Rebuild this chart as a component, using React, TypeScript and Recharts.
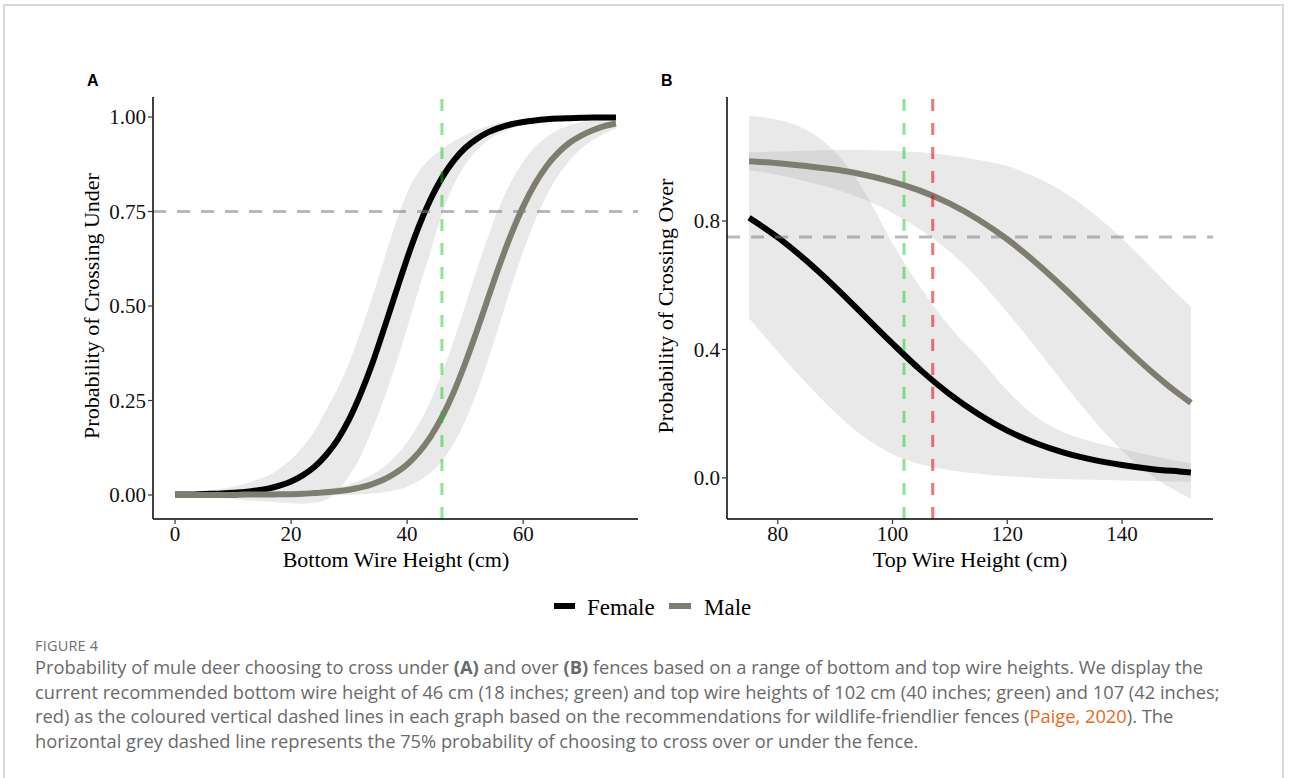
import React from 'react'
import { ComposedChart, Area, Line, XAxis, YAxis, ReferenceLine } from 'recharts'

// Panel A: bottom wire height (cm)
const heightA = [0, 2, 4, 6, 8, 10, 12, 14, 16, 18, 20, 22, 24, 26, 28, 30, 32, 34, 36, 38, 40, 42, 44, 46, 48, 50, 52, 54, 56, 58, 60, 62, 64, 66, 68, 70, 72, 74, 76]
const femaleA = [0.001, 0.001, 0.002, 0.003, 0.004, 0.006, 0.008, 0.012, 0.017, 0.025, 0.036, 0.052, 0.074, 0.105, 0.146, 0.200, 0.268, 0.348, 0.439, 0.533, 0.626, 0.710, 0.781, 0.839, 0.884, 0.918, 0.942, 0.960, 0.972, 0.981, 0.987, 0.991, 0.994, 0.996, 0.997, 0.998, 0.999, 0.999, 0.999]
const femaleALow = [-0.003, -0.004, -0.005, -0.006, -0.008, -0.010, -0.013, -0.016, -0.017, -0.020, -0.022, -0.023, -0.020, -0.013, 0.011, 0.050, 0.103, 0.173, 0.254, 0.343, 0.441, 0.545, 0.641, 0.744, 0.819, 0.873, 0.912, 0.939, 0.957, 0.970, 0.979, 0.985, 0.989, 0.992, 0.994, 0.995, 0.997, 0.997, 0.997]
const femaleAHigh = [0.005, 0.006, 0.009, 0.012, 0.016, 0.022, 0.029, 0.040, 0.051, 0.070, 0.094, 0.127, 0.168, 0.223, 0.281, 0.350, 0.433, 0.523, 0.622, 0.718, 0.800, 0.855, 0.890, 0.915, 0.935, 0.952, 0.966, 0.977, 0.985, 0.991, 0.995, 0.997, 0.999, 1.000, 1.000, 1.001, 1.001, 1.001, 1.001]
const maleA = [0.000, 0.000, 0.000, 0.000, 0.000, 0.000, 0.001, 0.001, 0.001, 0.002, 0.002, 0.003, 0.005, 0.007, 0.010, 0.014, 0.020, 0.029, 0.041, 0.058, 0.081, 0.112, 0.153, 0.206, 0.271, 0.348, 0.433, 0.523, 0.611, 0.692, 0.763, 0.822, 0.869, 0.905, 0.932, 0.951, 0.965, 0.976, 0.983]
const maleALow = [0, 0, 0, 0, 0, 0, 0, 0, 0, 0, -0.001, -0.001, -0.001, -0.001, 0.000, 0.000, 0.002, 0.004, 0.007, 0.013, 0.022, 0.037, 0.058, 0.090, 0.135, 0.195, 0.271, 0.360, 0.456, 0.553, 0.644, 0.724, 0.791, 0.844, 0.885, 0.916, 0.939, 0.956, 0.969]
const maleAHigh = [0, 0, 0, 0, 0.001, 0.001, 0.001, 0.002, 0.003, 0.004, 0.005, 0.007, 0.010, 0.015, 0.020, 0.028, 0.039, 0.054, 0.075, 0.103, 0.139, 0.187, 0.248, 0.322, 0.407, 0.500, 0.595, 0.685, 0.765, 0.831, 0.882, 0.920, 0.947, 0.966, 0.978, 0.986, 0.992, 0.995, 0.997]

// Panel B: top wire height (cm)
const heightB = [75, 80, 85, 90, 95, 100, 105, 110, 115, 120, 125, 130, 135, 140, 145, 150, 152]
const femaleB = [0.810, 0.749, 0.676, 0.594, 0.506, 0.418, 0.334, 0.260, 0.198, 0.147, 0.108, 0.078, 0.056, 0.040, 0.028, 0.020, 0.017]
const femaleBLow = [0.497, 0.393, 0.295, 0.204, 0.128, 0.074, 0.042, 0.024, 0.013, 0.005, 0.000, -0.004, -0.006, -0.008, -0.010, -0.011, -0.012]
const femaleBHigh = [1.128, 1.115, 1.083, 1.015, 0.895, 0.730, 0.590, 0.470, 0.375, 0.272, 0.190, 0.140, 0.112, 0.090, 0.070, 0.052, 0.046]
const maleB = [0.986, 0.980, 0.971, 0.960, 0.944, 0.922, 0.893, 0.854, 0.804, 0.743, 0.670, 0.589, 0.502, 0.415, 0.333, 0.260, 0.234]
const maleBLow = [0.959, 0.944, 0.923, 0.899, 0.867, 0.825, 0.771, 0.704, 0.618, 0.515, 0.405, 0.290, 0.181, 0.085, 0.009, -0.046, -0.065]
const maleBHigh = [1.013, 1.016, 1.019, 1.021, 1.021, 1.019, 1.014, 1.004, 0.990, 0.971, 0.936, 0.888, 0.823, 0.745, 0.657, 0.566, 0.533]

const xTicksA = [0, 20, 40, 60]
const yTicksA = [0, 0.25, 0.5, 0.75, 1]
const xTicksB = [80, 100, 120, 140]
const yTicksB = [0, 0.4, 0.8]

const threshold = 0.75
const guidesA = [{ x: 46, color: 'rgba(20,200,20,0.48)' }]
const guidesB = [
  { x: 102, color: 'rgba(20,200,20,0.48)' },
  { x: 107, color: 'rgba(235,0,0,0.55)' }
]

const SERIF = '"Liberation Serif", "Times New Roman", serif'
const SANS = '"Liberation Sans", Arial, sans-serif'
const CAPTION = '"Open Sans", "Noto Sans", sans-serif'
const MALE = '#7f7d6f'

function buildRows(h: number[], f: number[], fLo: number[], fHi: number[], m: number[], mLo: number[], mHi: number[]) {
  return h.map((x, i) => ({
    h: x,
    female: f[i],
    male: m[i],
    femaleBand: [fLo[i], fHi[i]],
    maleBand: [mLo[i], mHi[i]]
  }))
}

const rowsA = buildRows(heightA, femaleA, femaleALow, femaleAHigh, maleA, maleALow, maleAHigh)
const rowsB = buildRows(heightB, femaleB, femaleBLow, femaleBHigh, maleB, maleBLow, maleBHigh)

interface PanelProps {
  rows: any[]
  width: number
  yAxisWidth: number
  xDomain: [number, number]
  yDomain: [number, number]
  xTicks: number[]
  yTicks: number[]
  yDigits: number
  guides: { x: number; color: string }[]
}

function CurvePanel({ rows, width, yAxisWidth, xDomain, yDomain, xTicks, yTicks, yDigits, guides }: PanelProps) {
  const tickStyle = { fill: '#111', fontSize: 21, fontFamily: SERIF }
  return (
    <ComposedChart width={width} height={500} data={rows} margin={{ top: 7, right: 12, bottom: 0, left: 0 }}>
      <XAxis
        type="number"
        dataKey="h"
        domain={xDomain}
        ticks={xTicks}
        interval={0}
        allowDataOverflow
        height={71}
        tickSize={5}
        axisLine={{ stroke: '#000', strokeWidth: 1.5 }}
        tickLine={{ stroke: '#333', strokeWidth: 1.2 }}
        tick={tickStyle}
      />
      <YAxis
        type="number"
        domain={yDomain}
        ticks={yTicks}
        interval={0}
        allowDataOverflow
        width={yAxisWidth}
        tickSize={5}
        tickFormatter={(v: number) => v.toFixed(yDigits)}
        axisLine={{ stroke: '#000', strokeWidth: 1.5 }}
        tickLine={{ stroke: '#333', strokeWidth: 1.2 }}
        tick={tickStyle}
      />
      <Area dataKey="femaleBand" type="monotone" fill="#999999" fillOpacity={0.22} stroke="none" isAnimationActive={false} />
      <Area dataKey="maleBand" type="monotone" fill="#999999" fillOpacity={0.22} stroke="none" isAnimationActive={false} />
      <Line dataKey="female" type="monotone" stroke="#000" strokeWidth={6} dot={false} isAnimationActive={false} />
      <Line dataKey="male" type="monotone" stroke={MALE} strokeWidth={6} dot={false} isAnimationActive={false} />
      <ReferenceLine y={threshold} stroke="rgba(128,128,128,0.55)" strokeWidth={3} strokeDasharray="13 11" />
      {guides.map(g => (
        <ReferenceLine key={g.x} x={g.x} stroke={g.color} strokeWidth={3} strokeDasharray="12 12" />
      ))}
    </ComposedChart>
  )
}

const abs = (left: number, top: number): React.CSSProperties => ({ position: 'absolute', left, top })

function AxisTitle({ x, y, text, rotate }: { x: number; y: number; text: string; rotate?: boolean }) {
  return (
    <div
      style={{
        ...abs(x, y),
        transform: `translate(-50%, -50%)${rotate ? ' rotate(-90deg)' : ''}`,
        fontFamily: SERIF,
        fontSize: 22,
        lineHeight: 1,
        whiteSpace: 'nowrap',
        color: '#000'
      }}
    >
      {text}
    </div>
  )
}

export default function App() {
  const bold = { fontWeight: 700 }
  return (
    <div style={{ position: 'absolute', left: 0, top: 0, width: 1290, height: 778, background: '#fff', overflow: 'hidden' }}>
      <div style={{ position: 'absolute', left: 3, top: 4, width: 1281, height: 820, border: '2px solid #d9d9d9', boxSizing: 'border-box' }} />

      <div style={{ ...abs(87, 72), fontFamily: SANS, fontWeight: 700, fontSize: 16 }}>A</div>
      <div style={{ ...abs(661, 72), fontFamily: SANS, fontWeight: 700, fontSize: 16 }}>B</div>

      <div style={abs(60, 90)}>
        <CurvePanel
          rows={rowsA}
          width={590}
          yAxisWidth={93}
          xDomain={[-3.8, 79.8]}
          yDomain={[-0.0635, 1.053]}
          xTicks={xTicksA}
          yTicks={yTicksA}
          yDigits={2}
          guides={guidesA}
        />
      </div>
      <div style={abs(640, 90)}>
        <CurvePanel
          rows={rowsB}
          width={585}
          yAxisWidth={87}
          xDomain={[71.15, 155.85]}
          yDomain={[-0.128, 1.186]}
          xTicks={xTicksB}
          yTicks={yTicksB}
          yDigits={1}
          guides={guidesB}
        />
      </div>

      <AxisTitle x={92} y={306} text="Probability of Crossing Under" rotate />
      <AxisTitle x={666} y={306} text="Probability of Crossing Over" rotate />
      <AxisTitle x={396} y={560} text="Bottom Wire Height (cm)" />
      <AxisTitle x={970} y={560} text="Top Wire Height (cm)" />

      <div style={{ ...abs(554, 603), width: 21, height: 6, background: '#000' }} />
      <div style={{ ...abs(587, 596), fontFamily: SERIF, fontSize: 23, lineHeight: 1 }}>Female</div>
      <div style={{ ...abs(669, 603), width: 22, height: 6, background: MALE }} />
      <div style={{ ...abs(704, 596), fontFamily: SERIF, fontSize: 23, lineHeight: 1 }}>Male</div>

      <div style={{ ...abs(35, 639), fontFamily: CAPTION, fontSize: 14.5, letterSpacing: 0.2, color: '#707070', lineHeight: 1 }}>FIGURE 4</div>
      <div style={{ ...abs(35, 655), fontFamily: CAPTION, fontSize: 18.3, color: '#6a6a6a', lineHeight: '24.6px', whiteSpace: 'nowrap' }}>
        Probability of mule deer choosing to cross under <span style={bold}>(A)</span> and over <span style={bold}>(B)</span> fences based on a range of bottom and top wire heights. We display the
        <br />
        current recommended bottom wire height of 46 cm (18 inches; green) and top wire heights of 102 cm (40 inches; green) and 107 (42 inches;
        <br />
        red) as the coloured vertical dashed lines in each graph based on the recommendations for wildlife-friendlier fences (<span style={{ color: '#e8691e' }}>Paige, 2020</span>). The
        <br />
        horizontal grey dashed line represents the 75% probability of choosing to cross over or under the fence.
      </div>
    </div>
  )
}
